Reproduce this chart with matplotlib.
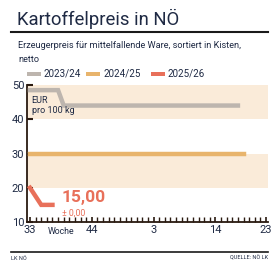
import matplotlib
matplotlib.use("Agg")
import matplotlib.pyplot as plt
import matplotlib.patches as mpatches
import numpy as np

weeks = [33, 34, 35, 36, 37, 38, 39, 40, 41, 42, 43, 44, 45, 46, 47, 48, 49, 50, 51, 52,
         1, 2, 3, 4, 5, 6, 7, 8, 9, 10, 11, 12, 13, 14, 15, 16, 17, 18, 19, 20, 21, 22, 23]
tick_weeks = [33, 44, 3, 14, 23]

price_2324 = [48.5, 48.5, 48.5, 48.5, 48.5, 48.5] + [44.0] * 32
price_2425 = [30.0] * 39
price_2526 = [20.0, 17.5, 15.0, 15.0, 15.0]

series = [("2023/24", price_2324, "#bdb5ae"),
          ("2024/25", price_2425, "#e8b46c"),
          ("2025/26", price_2526, "#e8705a")]

navy = "#1f2a44"
band = "#faebd9"
plt.rcParams['font.family'] = ['Roboto', 'DejaVu Sans']

fig = plt.figure(figsize=(2.79, 2.74), dpi=100)
ax = fig.add_axes([27 / 279, 1 - 222 / 274, 241 / 279, 137 / 274])

x = np.arange(len(weeks))
ax.set_xlim(-0.53, 42.35)
ax.set_ylim(10, 50)

# background bands
ax.axhspan(40, 50, color=band, lw=0, zorder=0)
ax.axhspan(20, 30, color=band, lw=0, zorder=0)

for name, vals, col in series:
    ax.plot(x[:len(vals)], vals, color=col, lw=3.2, solid_capstyle='projecting',
            solid_joinstyle='miter', zorder=3)

ax.set_yticks([10, 20, 30, 40, 50])
ax.set_xticks([weeks.index(w) for w in tick_weeks])
ax.set_xticklabels([str(w) for w in tick_weeks])
ax.set_xticks(x, minor=True)
ax.tick_params(axis='both', colors=navy, labelsize=8, labelcolor=navy)
ax.tick_params(axis='x', direction='in', length=3.5, width=1.2, pad=2, color='#2a1a10')
ax.tick_params(axis='x', which='minor', direction='in', length=3.5, width=1.0, color='#2a1a10')
ax.tick_params(axis='y', direction='in', length=4, width=1.5, pad=2, color='#2a1a10')
for s in ['top', 'right']:
    ax.spines[s].set_visible(False)
for s in ['left', 'bottom']:
    ax.spines[s].set_color('#2a1a10')
    ax.spines[s].set_linewidth(1.3)

ax.text(0.3, 46.8, "EUR\npro 100 kg", fontsize=6.5, color=navy, va='top', ha='left',
        linespacing=1.15)
ax.text(5.7, 17.2, "15,00", fontsize=12.5, fontweight='bold', color="#e8705a",
        va='center', ha='left')
ax.text(5.7, 12.7, "± 0,00", fontsize=6.3, color="#e8705a", va='center', ha='left')
ax.text(5.5, 7.3, "Woche", fontsize=6.3, color=navy, va='center', ha='center')

# header
fig.text(17 / 279, 1 - 18.5 / 274, "Kartoffelpreis in NÖ", fontsize=13.3, color=navy,
         va='center', ha='left')
fig.add_artist(plt.Line2D([11 / 279, 268 / 279], [1 - 32 / 274] * 2, color='#1a1a1a', lw=1.5))
fig.text(18 / 279, 1 - 46 / 274, "Erzeugerpreis für mittelfallende Ware, sortiert in Kisten,",
         fontsize=6.6, color=navy, va='center', ha='left')
fig.text(18 / 279, 1 - 60 / 274, "netto", fontsize=6.6, color=navy, va='center', ha='left')

leg_x = [27, 86, 151]
for (name, vals, col), lx in zip(series, leg_x):
    fig.add_artist(mpatches.Rectangle((lx / 279, 1 - 75.5 / 274), 14 / 279, 4 / 274,
                                      color=col, transform=fig.transFigure, lw=0))
    fig.text((lx + 17) / 279, 1 - 73.5 / 274, name, fontsize=7, color=navy,
             va='center', ha='left')

# footer
fig.add_artist(plt.Line2D([11 / 279, 268 / 279], [1 - 252 / 274] * 2, color='#1a1a1a', lw=1.2))
fig.text(11 / 279, 1 - 258 / 274, "LK NÖ", fontsize=4, color=navy, va='center', ha='left')
fig.text(268 / 279, 1 - 258 / 274, "QUELLE: NÖ LK", fontsize=4, color=navy, va='center', ha='right')

fig.savefig("out.png", dpi=100)
